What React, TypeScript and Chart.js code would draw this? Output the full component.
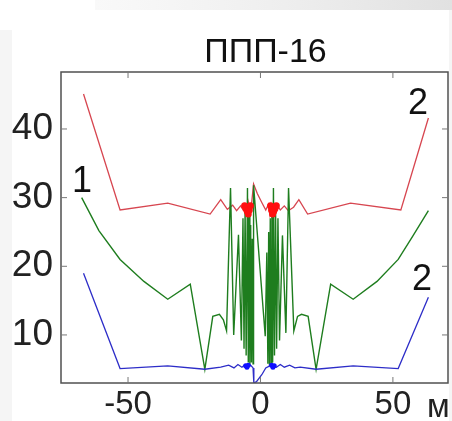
import React, { useEffect, useRef } from "react";
import { Chart, registerables } from "chart.js";

Chart.register(...registerables);

const TITLE = "ППП-16";
const X_UNIT = "м";
const X_MIN = -75.3;
const X_MAX = 70.8;
const Y_MIN = 3.0;
const Y_MAX = 48.3;
const X_TICKS = [-50, 0, 50];
const Y_TICKS = [10, 20, 30, 40];

// curve 2 (upper, red)
const redX = [-66.8, -53, -35, -19, -15, -12.5, -10.5, -9, -7.5, -6.5, -5.5, -5, -4.5, -4, -3.5, -2.6, -1.2, 0.5, 2, 3, 3.5, 4, 4.5, 5, 5.5, 6.5, 7.5, 9, 10.5, 12.5, 14.5, 17.8, 34, 53, 63.4];
const redY = [45.1, 28.2, 29.2, 27.6, 29.7, 28.3, 28.9, 28.1, 28.8, 28.2, 28.9, 27.6, 29.2, 27.8, 28.6, 32.0, 30.6, 29.3, 28.2, 29.0, 27.6, 28.9, 27.8, 29.1, 28.0, 28.8, 28.2, 28.8, 28.1, 28.6, 29.7, 27.6, 29.2, 28.2, 41.6];

// curve 1 (green)
const greenX = [-67.5, -61, -53, -44, -35, -26.5, -21, -18, -15.5, -14, -12.8, -11.3, -10.1, -8.3, -7.2, -6.6, -6.2, -5.8, -5.4, -4.9, -4.6, -4.3, -4.0, -3.7, -3.4, -3.1, -2.8, -2.6, 1.8, 2.4, 2.8, 3.1, 3.4, 3.7, 4.0, 4.3, 4.6, 4.9, 5.3, 5.7, 6.1, 6.6, 7.2, 8.3, 9.6, 10.6, 12.6, 14, 15.5, 18, 21, 26.5, 35, 44, 52, 57.5, 63.4];
const greenY = [30.0, 25.2, 21.0, 17.8, 15.2, 17.4, 5.0, 12.7, 13.0, 12.2, 10.6, 31.4, 10.0, 24.6, 9.2, 27.0, 8.0, 28.5, 7.0, 31.4, 6.0, 28.0, 5.5, 26.0, 6.0, 24.0, 5.8, 31.8, 9.8, 22.0, 5.8, 25.0, 5.5, 27.0, 5.5, 28.5, 6.0, 31.4, 7.0, 28.5, 8.0, 27.0, 9.2, 24.5, 10.3, 31.4, 10.6, 12.7, 13.0, 12.7, 5.0, 17.4, 15.2, 17.8, 21.0, 24.4, 28.1];

// curve 2 (lower, blue)
const blueX = [-66.8, -53, -35, -21, -15, -12, -10, -8.5, -7, -6, -5.2, -4.4, -3.5, -2.8, -2.5, -1.5, 0.5, 2, 3.5, 4.5, 6, 7.5, 9, 11, 13, 15, 21, 35, 52, 63.4];
const blueY = [19.0, 5.1, 5.5, 5.0, 5.3, 5.6, 5.2, 5.7, 5.3, 5.6, 5.4, 5.7, 5.5, 5.2, 3.0, 3.2, 4.2, 5.2, 5.5, 5.6, 5.3, 5.7, 5.3, 5.6, 5.2, 5.3, 5.0, 5.5, 5.1, 15.5];

// markers
const redDotsX = [-6.0, -5.5, -5.0, -4.6, -4.2, -3.8, 3.8, 4.2, 4.6, 5.0, 5.5, 6.0];
const redDotsY = [28.8, 28.4, 28.0, 27.6, 28.2, 28.8, 28.8, 28.2, 27.6, 28.0, 28.4, 28.8];
const blueDotsX = [-5.6, -5.1, -4.6, 4.2, 4.7, 5.2];
const blueDotsY = [5.5, 5.3, 5.6, 5.6, 5.3, 5.5];

// curve labels
const labelText = ["1", "2", "2"];
const labelX = [-67.4, 59.5, 61.0];
const labelY = [32.3, 43.6, 18.0];

const pts = (xs: number[], ys: number[]) => xs.map((x, i) => ({ x, y: ys[i] }));

const FONT = "'Liberation Sans', Arial, sans-serif";

const decorPlugin = {
  id: "decor",
  beforeDraw(chart: any) {
    const { ctx, width, height } = chart;
    ctx.save();
    ctx.fillStyle = "#ffffff";
    ctx.fillRect(0, 0, width, height);
    const g = ctx.createLinearGradient(95, 0, width, 0);
    g.addColorStop(0, "rgba(235,235,235,0.3)");
    g.addColorStop(1, "rgba(225,225,225,1)");
    ctx.fillStyle = g;
    ctx.fillRect(95, 0, width - 95, 10);
    ctx.fillStyle = "rgba(238,238,238,0.6)";
    ctx.fillRect(0, 30, 12, height - 30);
    ctx.fillRect(width - 3, 10, 3, height - 10);
    ctx.restore();
  },
  afterDatasetsDraw(chart: any) {
    const { ctx, chartArea: a, scales } = chart;
    const xs = scales.x;
    const ys = scales.y;
    ctx.save();
    ctx.strokeStyle = "#505050";
    ctx.lineWidth = 1.5;
    ctx.strokeRect(a.left, a.top, a.right - a.left, a.bottom - a.top);
    ctx.lineWidth = 1;
    ctx.strokeStyle = "#777";
    const tl = 6;
    ctx.beginPath();
    Y_TICKS.forEach((v) => {
      const py = ys.getPixelForValue(v);
      ctx.moveTo(a.left, py);
      ctx.lineTo(a.left + tl, py);
      ctx.moveTo(a.right, py);
      ctx.lineTo(a.right - tl, py);
    });
    X_TICKS.forEach((v) => {
      const px = xs.getPixelForValue(v);
      ctx.moveTo(px, a.bottom);
      ctx.lineTo(px, a.bottom - tl);
      ctx.moveTo(px, a.top);
      ctx.lineTo(px, a.top + tl);
    });
    ctx.stroke();

    // curve labels
    ctx.fillStyle = "#111";
    ctx.font = `36px ${FONT}`;
    ctx.textAlign = "center";
    ctx.textBaseline = "middle";
    labelText.forEach((t, i) => {
      ctx.fillText(t, xs.getPixelForValue(labelX[i]), ys.getPixelForValue(labelY[i]));
    });

    // title
    ctx.font = `34px ${FONT}`;
    ctx.textAlign = "center";
    ctx.textBaseline = "alphabetic";
    ctx.fillText(TITLE, (a.left + a.right) / 2 + 11, a.top - 10);

    // unit
    ctx.fillStyle = "#222";
    ctx.font = `33px ${FONT}`;
    ctx.textAlign = "left";
    ctx.fillText(X_UNIT, xs.getPixelForValue(X_TICKS[X_TICKS.length - 1]) + 34, 417);
    ctx.restore();
  },
};

export default function App() {
  const ref = useRef<HTMLCanvasElement | null>(null);

  useEffect(() => {
    document.body.style.margin = "0";
    const canvas = ref.current;
    if (!canvas) return;
    const chart = new Chart(canvas, {
      type: "scatter",
      data: {
        datasets: [
          {
            data: pts(redDotsX, redDotsY),
            showLine: false,
            pointRadius: 3.5,
            pointBackgroundColor: "#ff1010",
            pointBorderColor: "#ff1010",
            borderWidth: 0,
          },
          {
            data: pts(blueDotsX, blueDotsY),
            showLine: false,
            pointRadius: 2.5,
            pointBackgroundColor: "#1010ff",
            pointBorderColor: "#1010ff",
            borderWidth: 0,
          },
          {
            data: pts(blueX, blueY),
            showLine: true,
            borderColor: "rgb(45,45,200)",
            borderWidth: 1.3,
            pointRadius: 0,
            tension: 0,
          },
          {
            data: pts(greenX, greenY),
            showLine: true,
            borderColor: "rgb(30,125,30)",
            borderWidth: 1.4,
            pointRadius: 0,
            tension: 0,
          },
          {
            data: pts(redX, redY),
            showLine: true,
            borderColor: "rgb(215,70,80)",
            borderWidth: 1.3,
            pointRadius: 0,
            tension: 0,
          },
        ],
      },
      options: {
        animation: false,
        responsive: false,
        events: [],
        layout: { padding: { top: 72, right: 4, left: 0, bottom: 0 } },
        plugins: {
          legend: { display: false },
          title: { display: false },
          tooltip: { enabled: false },
        },
        scales: {
          x: {
            type: "linear",
            min: X_MIN,
            max: X_MAX,
            afterBuildTicks: (axis: any) => {
              axis.ticks = X_TICKS.map((v) => ({ value: v }));
            },
            afterFit: (axis: any) => {
              axis.height = 38;
            },
            grid: { display: false, drawTicks: false },
            border: { display: false },
            ticks: {
              padding: 2,
              color: "#222",
              font: { family: FONT, size: 33 },
              maxRotation: 0,
              autoSkip: false,
            },
          },
          y: {
            type: "linear",
            min: Y_MIN,
            max: Y_MAX,
            afterBuildTicks: (axis: any) => {
              axis.ticks = Y_TICKS.map((v) => ({ value: v }));
            },
            afterFit: (axis: any) => {
              axis.width = 61;
            },
            grid: { display: false, drawTicks: false },
            border: { display: false },
            ticks: {
              padding: 8,
              color: "#222",
              font: { family: FONT, size: 37 },
              autoSkip: false,
            },
          },
        },
      },
      plugins: [decorPlugin],
    });
    return () => chart.destroy();
  }, []);

  return (
    <div style={{ width: 452, height: 421 }}>
      <canvas ref={ref} width={452} height={421} style={{ display: "block", width: 452, height: 421 }} />
    </div>
  );
}
